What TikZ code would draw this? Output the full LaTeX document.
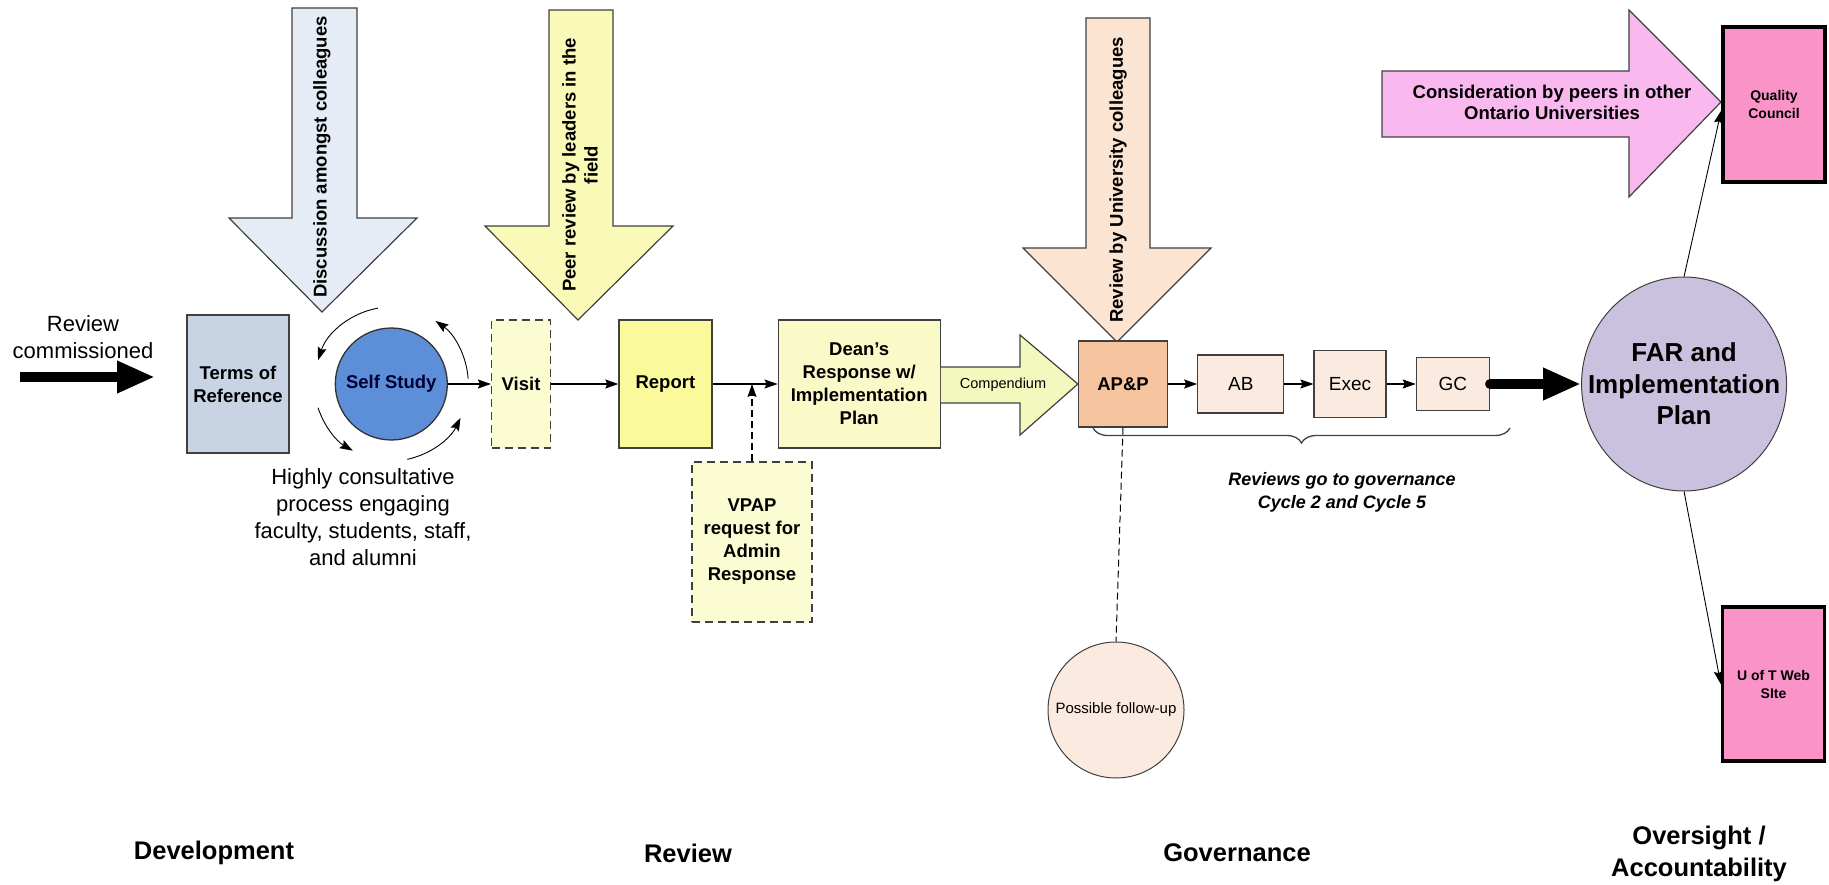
\documentclass[tikz,border=0pt]{standalone}
\usepackage{fontspec}
\setmainfont{Liberation Sans}
\usepackage{tikz}
\usetikzlibrary{positioning,shapes.geometric,arrows.meta,decorations.pathreplacing}
\usepackage{xcolor}

\definecolor{torblue}{HTML}{C8D4E3}
\definecolor{selfblue}{HTML}{5C8FD8}
\definecolor{discblue}{HTML}{E6ECF5}
\definecolor{paleyel}{HTML}{FCFCD2}
\definecolor{peeryel}{HTML}{FAFAB8}
\definecolor{repyel}{HTML}{FAFA9C}
\definecolor{deanyel}{HTML}{FAFAC8}
\definecolor{compyel}{HTML}{F3F8BE}
\definecolor{univpeach}{HTML}{FBE4D2}
\definecolor{appeach}{HTML}{F6C49E}
\definecolor{govpeach}{HTML}{FBEADF}
\definecolor{farlav}{HTML}{C9C1DD}
\definecolor{qcpink}{HTML}{F993C8}
\definecolor{conspink}{HTML}{F9B8EE}
\definecolor{edgegray}{HTML}{404040}

\begin{document}
\begin{tikzpicture}[%
    x=1pt,y=-1pt,>={Stealth[length=13pt,width=9pt,inset=2pt]},
    box/.style={%
      rectangle,draw=edgegray,line width=1.3pt,inner sep=0pt,align=center,
      font=\bfseries\fontsize{18.5}{23}\selectfont},
    dbox/.style={box,dash pattern=on 8pt off 5pt},
    gov/.style={box,fill=govpeach,font=\fontsize{19}{23}\selectfont},
    pinkbox/.style={box,fill=qcpink,draw=black,line width=3.5pt,
      minimum width=102pt,minimum height=155pt,font=\bfseries\fontsize{14}{18}\selectfont},
    flow/.style={->,line width=1.2pt},
    turn/.style={->,line width=0.9pt},
    block/.style={draw=edgegray,line width=1.2pt},
    rot/.style={rotate=90,align=center,font=\bfseries\fontsize{18.5}{22}\selectfont},
    stage/.style={align=center,font=\bfseries\fontsize{25.5}{32}\selectfont},
    bigflow/.style={-{Triangle[length=38pt,width=30pt]},line width=10pt,line cap=round}
  ]
    \useasboundingbox (0,0) rectangle (1829,885);

    \fill[discblue] (292,8) -- (357,8) -- (357,218) -- (417,218) -- (322,312) -- (229,218) -- (292,218) -- cycle;
    \draw[block] (292,8) -- (357,8) -- (357,218) -- (417,218) -- (322,312) -- (229,218) -- (292,218) -- cycle;
    \draw[block,fill=peeryel] (549,10) -- (613,10) -- (613,226) -- (673,226) -- (578,320) -- (485,226) -- (549,226) -- cycle;
    \draw[block,fill=univpeach] (1086,18) -- (1150,18) -- (1150,248) -- (1211,248) -- (1117,342) -- (1023,248) -- (1086,248) -- cycle;
    \draw[block,fill=conspink] (1382,71) -- (1629,71) -- (1629,10) -- (1721,102) -- (1629,197) -- (1629,137) -- (1382,137) -- cycle;

    \node[rot] (disc) at (322,157) {Discussion amongst colleagues};
    \node[rot] (peer) at (580,165) {Peer review by leaders in the\\field};
    \node[rot] (univ) at (1118,180) {Review by University colleagues};
    \node[align=center,font=\bfseries\fontsize{18.5}{21}\selectfont] (cons) at (1552,102) {Consideration by peers in other\\Ontario Universities};

    \node[align=center,font=\fontsize{22}{27}\selectfont] (commis) at (83,337) {Review\\commissioned};
    \coordinate (cstart) at (20,377);
    \coordinate (cend) at (155,377);
    \draw[bigflow,line cap=butt] (cstart) -- (cend);

    \node[box,fill=torblue,minimum width=102pt,minimum height=138pt] (tor) at (238,384) {Terms of\\Reference};
    \node[box,circle,fill=selfblue,draw=black!80,minimum size=112pt,text=black!80!blue] (self) [right=45pt of tor] {Self Study};
    \node[dbox,fill=paleyel,minimum width=59pt,minimum height=128pt] (visit) [right=43pt of self] {Visit};
    \node[box,fill=repyel,minimum width=93pt,minimum height=128pt] (report) [right=67pt of visit] {Report};
    \node[box,fill=deanyel,minimum width=162pt,minimum height=128pt] (dean) [right=65pt of report] {Dean’s\\Response w/\\Implementation\\Plan};
    \node[box,fill=appeach,minimum width=89pt,minimum height=86pt] (app) [right=137pt of dean] {AP\&P};
    \node[gov,minimum width=86pt,minimum height=58pt] (ab) [right=29pt of app] {AB};
    \node[gov,minimum width=72pt,minimum height=67pt] (exec) [right=29pt of ab] {Exec};
    \node[gov,minimum width=73pt,minimum height=53pt] (gc) [right=29pt of exec] {GC};
    \node[ellipse,draw=edgegray,line width=1pt,fill=farlav,minimum width=205pt,minimum height=214pt,inner sep=0pt,
      label={[align=center,font=\bfseries\fontsize{26}{31.5}\selectfont]center:FAR and\\Implementation\\Plan}] (far) [right=91pt of gc] {};

    \node[dbox,fill=paleyel,minimum width=120pt,minimum height=160pt] (vpap) at (752,542) {VPAP\\request for\\Admin\\Response};
    \node[circle,draw=edgegray,line width=1pt,fill=govpeach,minimum size=136pt,inner sep=0pt,font=\fontsize{15}{18}\selectfont] (follow) at (1116,710) {Possible follow-up};
    \node[pinkbox] (qc) at (1774,104.5) {Quality\\Council};
    \node[pinkbox,minimum height=154pt] (web) at (1773.5,684) {U of T Web\\SIte};

    \draw[block,fill=compyel] (dean.east |- 0,367) -- (1020,367) -- (1020,335) -- (app.west) -- (1020,435) -- (1020,403) -- (dean.east |- 0,403);
    \node[font=\fontsize{14.5}{17}\selectfont] (comp) at (1003,385) {Compendium};

    \draw[turn] ([shift={(100:77pt)}]self.center) arc[start angle=100,end angle=162,radius=77pt];
    \draw[turn] ([shift={(198:77pt)}]self.center) arc[start angle=198,end angle=240,radius=77pt];
    \draw[turn] ([shift={(282:77pt)}]self.center) arc[start angle=282,end angle=334,radius=77pt];
    \draw[turn] ([shift={(4:77pt)}]self.center) arc[start angle=4,end angle=55,radius=77pt];

    \draw[flow] (self) -- (visit);
    \draw[flow] (visit) -- (report);
    \draw[flow] (report) -- (dean);
    \draw[flow,dash pattern=on 7pt off 4pt] (vpap.north) -- (vpap.north |- report.east);
    \draw[flow] (app) -- (ab);
    \draw[flow] (ab) -- (exec);
    \draw[flow] (exec) -- (gc);
    \draw[bigflow] (gc) -- (far);
    \draw[line width=1pt,dash pattern=on 7pt off 4pt] (app.south) -- (follow.north);
    \draw[turn] (far.north) -- ([yshift=-6pt]qc.west);
    \draw[turn] (far.south) -- (web.west);

    \draw[edgegray,line width=1.3pt,decorate,decoration={brace,mirror,amplitude=15pt}] (1093,428) -- (1510,428);
    \node[align=center,font=\bfseries\itshape\fontsize{18}{23}\selectfont] (govnote) at (1342,492) {Reviews go to governance\\Cycle 2 and Cycle 5};

    \node[align=center,font=\fontsize{22}{27}\selectfont] (consult) at (363,517) {Highly consultative\\process engaging\\faculty, students, staff,\\and alumni};

    \node[stage] (devel) at (214,853) {Development};
    \node[stage] (review) at (688,853) {Review};
    \node[stage] (govern) at (1237,853) {Governance};
    \node[stage] (oversight) at (1699,854) {Oversight /\\Accountability};
\end{tikzpicture}
\end{document}
